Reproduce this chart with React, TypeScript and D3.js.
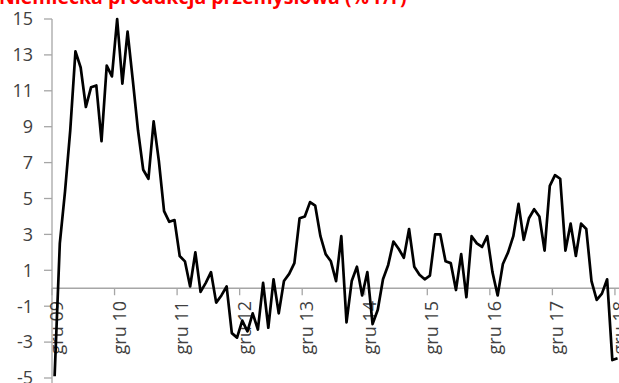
import React from "react";
import * as d3 from "d3";

const title = "Niemiecka produkcja przemysłowa (% r/r)";
const xTickLabels = ["gru 09", "gru 10", "gru 11", "gru 12", "gru 13", "gru 14", "gru 15", "gru 16", "gru 17", "gru 18"];
const yTicks = [-5, -3, -1, 1, 3, 5, 7, 9, 11, 13, 15];
// monthly y/y, Dec 2009 .. Dec 2018
const values = [
  -4.9, 2.5, 5.4, 8.8, 13.2, 12.3, 10.1, 11.2, 11.3, 8.2, 12.4, 11.8,
  15.0, 11.4, 14.3, 11.6, 8.8, 6.6, 6.1, 9.3, 7.1, 4.3, 3.7, 3.8,
  1.8, 1.5, 0.1, 2.0, -0.2, 0.3, 0.9, -0.8, -0.4, 0.1, -2.5, -2.75,
  -1.8, -2.4, -1.4, -2.3, 0.3, -2.2, 0.5, -1.4, 0.4, 0.8, 1.4, 3.9,
  4.0, 4.8, 4.6, 2.9, 1.9, 1.5, 0.4, 2.9, -1.9, 0.4, 1.2, -0.4,
  0.9, -2.0, -1.2, 0.5, 1.3, 2.6, 2.2, 1.7, 3.3, 1.2, 0.75, 0.5,
  0.7, 3.0, 3.0, 1.5, 1.4, -0.1, 1.9, -0.5, 2.9, 2.5, 2.3, 2.9,
  0.9, -0.4, 1.35, 2.0, 2.9, 4.7, 2.7, 3.9, 4.4, 4.0, 2.1, 5.7,
  6.3, 6.1, 2.1, 3.6, 1.8, 3.6, 3.3, 0.4, -0.65, -0.3, 0.5, -4.0,
  -3.9,
];

export default function App() {
  const W = 619;
  const H = 383;
  const left = 52;
  const step = 5.2125;
  const x = d3.scaleLinear().domain([-0.5, values.length - 0.5]).range([left, left + values.length * step]);
  const y = d3.scaleLinear().domain([-5, 15]).range([378, 19]);
  const line = d3
    .line<number>()
    .x((_, i) => x(i))
    .y((d) => y(d));
  const font = "'Open Sans', sans-serif";
  const axisColor = "#a6a6a6";
  const textColor = "#404040";
  const y0 = y(0);
  return (
    <svg
      width={W}
      height={H}
      style={{ position: "absolute", left: 0, top: 0, background: "#fff" }}
      fontFamily={font}
    >
      <text x={-1} y={4} fill="#ff0000" fontWeight="bold" fontSize={19.5}>
        {title}
      </text>
      {/* y axis */}
      <line x1={left} x2={left} y1={y(15)} y2={H} stroke={axisColor} strokeWidth={1.3} />
      {yTicks.map((t) => (
        <g key={t}>
          <line x1={left - 8} x2={left} y1={y(t)} y2={y(t)} stroke={axisColor} strokeWidth={1.3} />
          <text x={33} y={y(t)} dy="0.35em" textAnchor="end" fontSize={18} fill={textColor}>
            {t}
          </text>
        </g>
      ))}
      {/* x axis at zero */}
      <line x1={left} x2={W} y1={y0} y2={y0} stroke={axisColor} strokeWidth={1.5} />
      {xTickLabels.map((lab, k) => {
        const tx = x(12 * k - 0.5);
        return (
          <g key={lab}>
            <line x1={tx} x2={tx} y1={y0} y2={y0 + 7} stroke={axisColor} strokeWidth={1.3} />
            <text
              transform={`translate(${tx + 11},301) rotate(-90)`}
              textAnchor="end"
              fontSize={18}
              fill={textColor}
            >
              {lab}
            </text>
          </g>
        );
      })}
      <path d={line(values) || ""} fill="none" stroke="#000" strokeWidth={2.7} strokeLinejoin="round" />
    </svg>
  );
}
